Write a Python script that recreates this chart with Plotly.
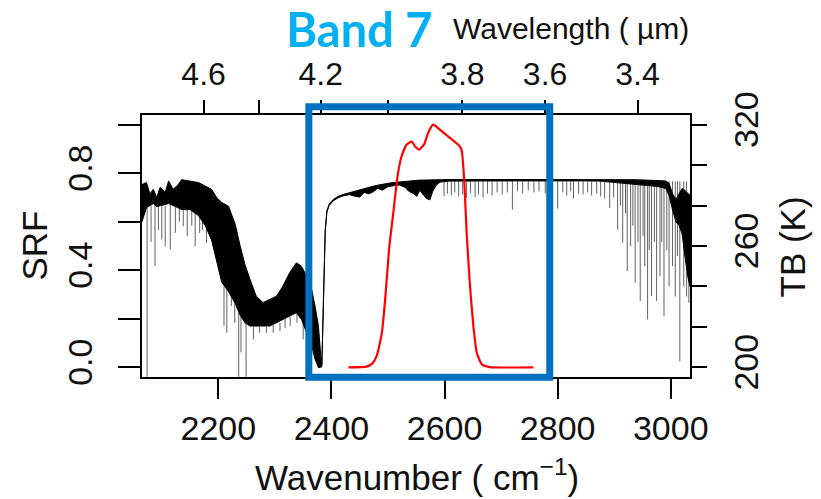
import plotly.graph_objects as go

# --- Brightness-temperature spectrum (K) : dense band envelope -------------
env_wn = [2065, 2073, 2079, 2085, 2091, 2097, 2106, 2112, 2120, 2128, 2135, 2150,
          2165, 2177, 2188, 2197, 2206, 2218, 2230, 2238, 2247, 2256, 2267, 2279,
          2291, 2303, 2314, 2326, 2338, 2347, 2356, 2365, 2371, 2377, 2381, 2383,
          2386, 2389, 2392, 2396, 2403, 2412, 2422, 2432, 2442, 2450, 2458, 2466,
          2474, 2482, 2490, 2500, 2510, 2520, 2530, 2537, 2545, 2551, 2556, 2562,
          2568, 2574, 2579, 2585, 2592, 2609, 2638, 2668, 2697, 2727, 2757, 2787,
          2816, 2846, 2875, 2895, 2915, 2935, 2955, 2975, 2991, 2997, 3003, 3009,
          3015, 3020, 3025, 3030, 3034]
env_top = [290.4, 291.4, 285.7, 288.1, 284.0, 289.0, 286.5, 292.2, 288.1, 290.0, 292.8, 292.2,
           291.4, 289.6, 288.1, 284.0, 281.5, 279.7, 270.6, 260.7, 250.9, 243.5, 235.2, 232.0,
           233.6, 235.2, 240.1, 246.8, 251.7, 250.0, 245.1, 238.5, 230.3, 220.4, 206.0, 201.5,
           235.0, 268.0, 277.5, 280.8, 283.0, 284.6, 285.6, 286.4, 287.4, 288.0, 288.6, 289.1,
           289.6, 290.1, 290.6, 291.0, 291.4, 291.7, 292.1, 292.3, 292.4, 292.5, 292.6, 292.6,
           292.7, 292.7, 292.8, 292.8, 292.8, 292.9, 292.9, 293.0, 293.0, 293.0, 293.0, 293.0,
           293.1, 293.1, 293.1, 293.0, 293.0, 292.8, 292.6, 292.4, 292.2, 291.0, 286.0, 283.0,
           286.0, 288.5, 287.5, 286.0, 285.0]
env_bot = [272.0, 279.0, 280.0, 281.0, 279.5, 280.0, 280.5, 281.0, 280.0, 279.0, 278.0, 278.0,
           275.0, 270.0, 263.0, 252.0, 242.0, 237.5, 231.5, 226.0, 222.0, 220.4, 220.4, 220.4,
           220.4, 222.1, 223.7, 225.3, 227.0, 223.7, 217.1, 210.5, 204.0, 199.8, 200.0, 200.3,
           234.0, 267.0, 276.8, 280.0, 282.3, 283.9, 284.9, 285.4, 284.6, 284.2, 286.5, 285.8,
           286.8, 288.6, 287.6, 289.4, 289.8, 290.2, 289.0, 287.0, 286.0, 284.6, 287.5, 285.5,
           283.5, 282.8, 287.0, 290.0, 291.6, 292.1, 292.1, 292.2, 292.2, 292.2, 292.2, 292.2,
           292.3, 292.2, 292.1, 291.8, 291.2, 290.5, 290.0, 289.5, 288.5, 285.0, 278.0, 272.0,
           270.0, 266.0, 255.0, 245.0, 240.0]

# --- Individual absorption lines: wavenumber, line start, line minimum (K) --
line_wn = [2074, 2081, 2088, 2094, 2100, 2106, 2115, 2124, 2131, 2138, 2145, 2153,
           2159, 2167, 2172, 2179,
           2210, 2215, 2223, 2229, 2236, 2240, 2249, 2262, 2273, 2285, 2297, 2309,
           2318, 2327, 2339, 2350, 2362,
           2599, 2605, 2612, 2618, 2625, 2632, 2639, 2646, 2654, 2660, 2668, 2676,
           2684, 2693, 2702, 2711, 2720, 2729, 2738, 2748, 2758, 2767, 2778, 2789,
           2800, 2809, 2816, 2823, 2828, 2837, 2845, 2853, 2860, 2869, 2876, 2883,
           2892, 2899, 2906, 2911, 2915, 2920, 2923, 2929, 2933, 2937, 2942, 2946,
           2951, 2954, 2959, 2962, 2966, 2971, 2975, 2981, 2984, 2988, 2993, 2997,
           3003, 3008, 3012, 3016, 3023, 3028, 3032]
line_top = [280, 280, 281, 280, 280, 280, 281, 280, 279, 278, 278, 278,
            277, 275, 273, 270,
            240, 239, 237, 234, 229, 226, 222, 220, 220, 220, 221, 222,
            224, 225, 227, 222, 213] + [292.0] * 66 + [286, 284, 284, 286, 287, 287, 286]
line_min = [195.3, 262.0, 250.0, 268.0, 263.2, 259.9, 258.3, 266.5, 272.0, 269.8, 264.8, 270.0,
            259.9, 266.5, 268.0, 261.6,
            220.4, 217.1, 230.3, 222.0, 195.3, 207.4, 195.3, 213.8, 217.1, 217.1, 217.1, 217.9,
            219.5, 220.4, 222.1, 213.8, 207.4,
            284.5, 286.0, 285.0, 286.5, 284.5, 285.5, 283.8, 286.0, 284.2, 285.5, 284.0, 286.0,
            285.0, 286.5, 285.5, 286.5, 278.0, 287.0, 286.0, 287.5, 286.5, 287.0, 286.0, 287.0,
            278.5, 286.5, 285.0, 287.0, 283.5, 286.0, 285.5, 286.5, 285.0, 286.0, 284.5, 283.5,
            278.9, 284.0, 268.1, 280.0, 261.6, 276.0, 247.6, 260.0, 270.0, 241.8, 262.0, 232.8,
            265.0, 250.0, 223.7, 258.0, 235.2, 262.0, 232.8, 245.0, 262.0, 225.3, 258.0, 240.1,
            250.0, 235.0, 255.0, 203.1, 240.0, 235.0, 232.0]

# --- Band 7 spectral response function ----------------------------------------
srf_wn = [2430, 2462, 2472, 2480, 2489, 2495, 2502, 2510, 2517, 2524, 2533, 2542,
          2548, 2555, 2564, 2571, 2580, 2589, 2598, 2610, 2624, 2630, 2635, 2639,
          2645, 2651, 2657, 2666, 2680, 2757]
srf_val = [0.0, 0.003, 0.015, 0.047, 0.14, 0.28, 0.49, 0.65, 0.79, 0.87, 0.918, 0.93,
           0.91, 0.897, 0.92, 0.967, 1.0, 0.985, 0.967, 0.945, 0.918, 0.897, 0.76, 0.555,
           0.335, 0.17, 0.06, 0.012, 0.001, 0.0]

# --- Axes ----------------------------------------------------------------------
wn_ticks = [2200, 2400, 2600, 2800, 3000]
wl_ticks = [4.6, 4.4, 4.2, 4.0, 3.8, 3.6, 3.4]
wl_labels = ["4.6", "", "4.2", "", "3.8", "3.6", "3.4"]
srf_ticks = [0.0, 0.2, 0.4, 0.6, 0.8, 1.0]
srf_labels = ["0.0", "", "0.4", "", "0.8", ""]
tb_ticks = [200, 220, 240, 260, 280, 300, 320]
tb_labels = ["200", "", "", "260", "", "", "320"]

x_range = [2065, 3034]
srf_range = [-0.04, 1.04]
tb_range = [195.2, 324.8]

# highlighted band window (wavenumber, SRF units)
box_wn = [2360, 2786]
box_srf = [-0.041, 1.074]

FONT = "Liberation Sans, Arial, sans-serif"

fig = go.Figure()

# dense part of the spectrum as a filled envelope
fig.add_trace(go.Scatter(
    x=env_wn + env_wn[::-1], y=env_top + env_bot[::-1],
    xaxis="x", yaxis="y2", mode="lines", fill="toself",
    fillcolor="black", line=dict(color="black", width=1.0),
    hoverinfo="skip", showlegend=False))

# absorption lines as thin vertical strokes
lx, ly = [], []
for w, t, m in zip(line_wn, line_top, line_min):
    lx += [w, w, None]
    ly += [t, m, None]
fig.add_trace(go.Scatter(
    x=lx, y=ly, xaxis="x", yaxis="y2", mode="lines",
    line=dict(color="rgba(0,0,0,0.62)", width=1),
    hoverinfo="skip", showlegend=False))

# spectral response function
fig.add_trace(go.Scatter(
    x=srf_wn, y=srf_val, xaxis="x", yaxis="y", mode="lines",
    line=dict(color="#ff0000", width=2.2, shape="spline", smoothing=0.5),
    showlegend=False))

# empty trace so the top wavelength axis is created
fig.add_trace(go.Scatter(x=[None], y=[None], xaxis="x2", yaxis="y2",
                         mode="lines", hoverinfo="skip", showlegend=False))

# window around the band, placed in paper coordinates so it is not clipped
def px(w):
    return (w - x_range[0]) / (x_range[1] - x_range[0])

def py(s):
    return (s - srf_range[0]) / (srf_range[1] - srf_range[0])

fig.add_shape(type="rect", xref="paper", yref="paper",
              x0=px(box_wn[0]), x1=px(box_wn[1]), y0=py(box_srf[0]), y1=py(box_srf[1]),
              line=dict(color="#0070c0", width=7), layer="above")

axis_common = dict(showgrid=False, zeroline=False, showline=True, linecolor="black",
                   linewidth=2, ticks="outside", tickcolor="black", tickwidth=2)

fig.update_layout(
    width=821, height=499,
    margin=dict(l=142, r=131, t=115, b=122),
    paper_bgcolor="white", plot_bgcolor="white",
    font=dict(family=FONT, color="#111111"),
    xaxis=dict(range=x_range, tickvals=wn_ticks, ticklen=20, side="bottom",
               tickfont=dict(size=34), **axis_common),
    xaxis2=dict(range=x_range, overlaying="x", side="top", anchor="y2",
                tickvals=[10000 / w for w in wl_ticks], ticktext=wl_labels,
                ticklen=13, ticklabelstandoff=2, tickfont=dict(size=32), **axis_common),
    yaxis2=dict(range=tb_range, side="right", anchor="x", tickvals=tb_ticks,
                ticktext=tb_labels, tickangle=-90, ticklen=15, ticklabelstandoff=10,
                tickfont=dict(size=34), **axis_common),
    yaxis=dict(range=srf_range, side="left", overlaying="y2", tickvals=srf_ticks,
               ticktext=srf_labels, tickangle=-90, ticklen=22, ticklabelstandoff=12,
               tickfont=dict(size=34), **axis_common),
)

W = 548.0
H = 262.0

def pxp(x):
    return (x - 142) / W

def pyp(y):
    return (377 - y) / H

annotations = [
    dict(text="SRF", x=pxp(33.5), y=pyp(246), textangle=-90, font=dict(size=35)),
    dict(text="TB (K)", x=pxp(791.5), y=pyp(247), textangle=-90, font=dict(size=35)),
    dict(text="Wavenumber ( cm<sup>\u22121</sup>)", x=pxp(417), y=pyp(475), font=dict(size=35)),
    dict(text="Wavelength ( \u00b5m)", x=pxp(571), y=pyp(28), font=dict(size=30)),
    dict(text="<b>Band 7</b>", x=pxp(359), y=pyp(29),
         font=dict(size=47, family="Lato, sans-serif", color="#00b0f0")),
]
for a in annotations:
    fig.add_annotation(xref="paper", yref="paper", showarrow=False,
                       xanchor="center", yanchor="middle", **a)

fig.write_html("out.html")
